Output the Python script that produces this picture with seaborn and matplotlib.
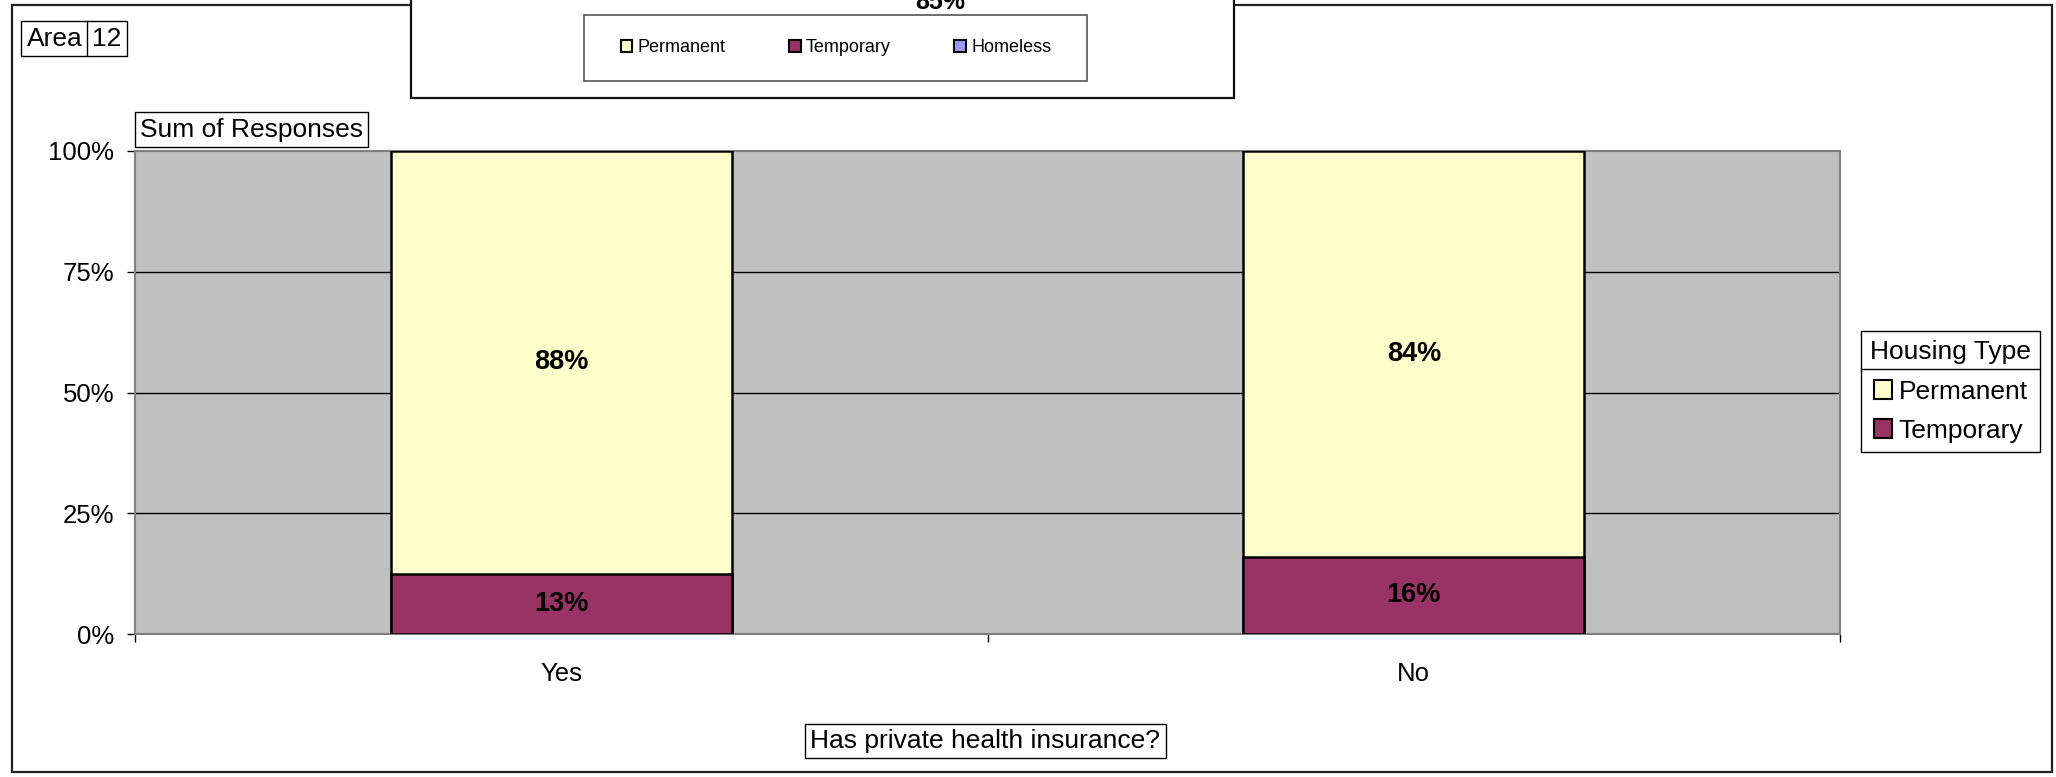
import matplotlib
matplotlib.use("Agg")
import matplotlib.pyplot as plt
from matplotlib.patches import Rectangle, Patch
from matplotlib.lines import Line2D
import seaborn as sns
import pandas as pd

# ---- data ----
categories = ["Yes", "No"]
temporary = [0.125, 0.16]
permanent = [0.875, 0.84]
series_names = ["Permanent", "Temporary", "Homeless"]
series_colors = ["#FFFFCC", "#993366", "#9999FF"]
y_ticks = [0, 0.25, 0.5, 0.75, 1.0]
y_tick_labels = ["0%", "25%", "50%", "75%", "100%"]
x_title = "Has private health insurance?"
y_title = "Sum of Responses"
legend_title = "Housing Type"
page_field = ["Area", "12"]
clipped_label = "85%"

sns.set_style("white")
plt.rcParams["font.family"] = ["Liberation Sans", "DejaVu Sans"]
plt.rcParams["text.color"] = "black"
plt.rcParams["axes.labelcolor"] = "black"
plt.rcParams["xtick.color"] = "black"
plt.rcParams["ytick.color"] = "black"
plt.rcParams["legend.labelcolor"] = "black"

W, H = 2056, 777
fig = plt.figure(figsize=(W / 100, H / 100), dpi=100)

def fx(px):
    return px / W

def fy(py):
    return 1 - py / H

# outer frame
fig.add_artist(Rectangle((fx(12), fy(772)), fx(2052) - fx(12), fy(5) - fy(772),
                         transform=fig.transFigure, fill=False,
                         edgecolor="#222222", lw=1.6, zorder=1))

# clipped top box (chart remnant)
fig.add_artist(Rectangle((fx(411), fy(98)), fx(1234) - fx(411), fy(-20) - fy(98),
                         transform=fig.transFigure, facecolor="white",
                         edgecolor="#111111", lw=1.6, zorder=2, clip_on=False))
fig.text(fx(940), fy(9), clipped_label, ha="center", va="baseline",
         fontsize=18, fontweight="bold", zorder=3, color="black")

# inner small legend box
fig.add_artist(Rectangle((fx(584), fy(81)), fx(1087) - fx(584), fy(15) - fy(81),
                         transform=fig.transFigure, facecolor="white",
                         edgecolor="#555555", lw=1.2, zorder=3))
small_handles = [Patch(facecolor=c, edgecolor="black", lw=1.5) for c in series_colors]
leg_top = fig.legend(small_handles, series_names, loc="center",
                     bbox_to_anchor=(fx(836), fy(48)), bbox_transform=fig.transFigure,
                     ncol=3, frameon=False, fontsize=13, handlelength=0.65,
                     handleheight=0.65, handletextpad=0.3, columnspacing=3.5)
leg_top.set_zorder(4)

# page field "Area | 12"
fig.text(fx(26.6), fy(38.5), page_field[0], ha="left", va="center", fontsize=19,
         color="black",
         bbox=dict(boxstyle="square,pad=0.2", facecolor="white", edgecolor="black", lw=1))
fig.text(fx(92.2), fy(38.5), page_field[1], ha="left", va="center", fontsize=19,
         color="black",
         bbox=dict(boxstyle="square,pad=0.2", facecolor="white", edgecolor="black", lw=1))

# ---- main axes ----
ax_left, ax_right, ax_top, ax_bottom = 135, 1840, 151, 634
ax = fig.add_axes([fx(ax_left), fy(ax_bottom), fx(ax_right) - fx(ax_left),
                   fy(ax_top) - fy(ax_bottom)])
ax.set_facecolor("#C0C0C0")

df = pd.DataFrame({"category": categories,
                   "temporary": temporary,
                   "permanent": permanent})
df["total"] = df["temporary"] + df["permanent"]

sns.barplot(data=df, x="category", y="total", order=categories, color=series_colors[0],
            saturation=1, width=0.4, edgecolor="black", linewidth=1.8, ax=ax, zorder=3)
sns.barplot(data=df, x="category", y="temporary", order=categories, color=series_colors[1],
            saturation=1, width=0.4, edgecolor="black", linewidth=1.8, ax=ax, zorder=4)

def pct(v):
    return f"{int(v * 100 + 0.5)}%"

for i, (t, p) in enumerate(zip(temporary, permanent)):
    ax.text(i, t / 2, pct(t), ha="center", va="center", fontsize=19.5,
            fontweight="bold", zorder=5, color="black")
    ax.text(i, t + p / 2, pct(p), ha="center", va="center", fontsize=19.5,
            fontweight="bold", zorder=5, color="black")

ax.set_xlim(-0.5, len(categories) - 0.5)
ax.set_ylim(0, 1)
ax.set_xlabel("")
ax.set_ylabel("")

ax.set_yticks(y_ticks)
ax.set_yticklabels(y_tick_labels, fontsize=18.5)
ax.tick_params(axis="y", which="major", left=True, length=6, width=1, color="black",
               pad=9, direction="out", labelcolor="black")

ax.set_xticks([i - 0.5 for i in range(len(categories) + 1)])
ax.set_xticklabels([""] * (len(categories) + 1))
ax.set_xticks(list(range(len(categories))), minor=True)
ax.set_xticklabels(categories, minor=True, fontsize=18.5)
ax.tick_params(axis="x", which="major", bottom=True, length=6, width=1, color="black",
               direction="out")
ax.tick_params(axis="x", which="minor", bottom=True, length=0, pad=20, labelcolor="black")

ax.grid(False)
for yv in y_ticks[1:-1]:
    ax.axhline(yv, color="black", lw=1, zorder=1)

for s in ax.spines.values():
    s.set_visible(True)
    s.set_color("#808080")
    s.set_linewidth(1.5)

# axis titles as boxed texts
fig.text(fx(140), fy(129.5), y_title, ha="left", va="center", fontsize=19, color="black",
         bbox=dict(boxstyle="square,pad=0.2", facecolor="white", edgecolor="black", lw=1))
fig.text(fx(985.5), fy(741), x_title, ha="center", va="center", fontsize=19, color="black",
         bbox=dict(boxstyle="square,pad=0.2", facecolor="white", edgecolor="black", lw=1))

# right legend
right_handles = [Patch(facecolor=c, edgecolor="black", lw=1.5) for c in series_colors[:2]]
leg = fig.legend(right_handles, series_names[:2], title=legend_title, loc="upper left",
                 bbox_to_anchor=(fx(1861), fy(331)), bbox_transform=fig.transFigure,
                 fontsize=19, title_fontsize=19, frameon=True, fancybox=False,
                 edgecolor="black", borderpad=0.35, labelspacing=0.58,
                 handlelength=0.7, handleheight=0.7, handletextpad=0.25,
                 borderaxespad=0)
leg.get_frame().set_linewidth(1)
leg.get_frame().set_alpha(None)
leg.get_frame().set_facecolor("white")
leg.get_title().set_color("black")

fig.canvas.draw()
renderer = fig.canvas.get_renderer()
tb = leg.get_title().get_window_extent(renderer)
fb = leg.get_frame().get_window_extent(renderer)
sep_y = (tb.y0 - 5) / fig.bbox.height
fig.add_artist(Line2D([fb.x0 / fig.bbox.width, fb.x1 / fig.bbox.width], [sep_y, sep_y],
                      transform=fig.transFigure, color="black", lw=1, zorder=10))

fig.savefig("out.png", dpi=100)
